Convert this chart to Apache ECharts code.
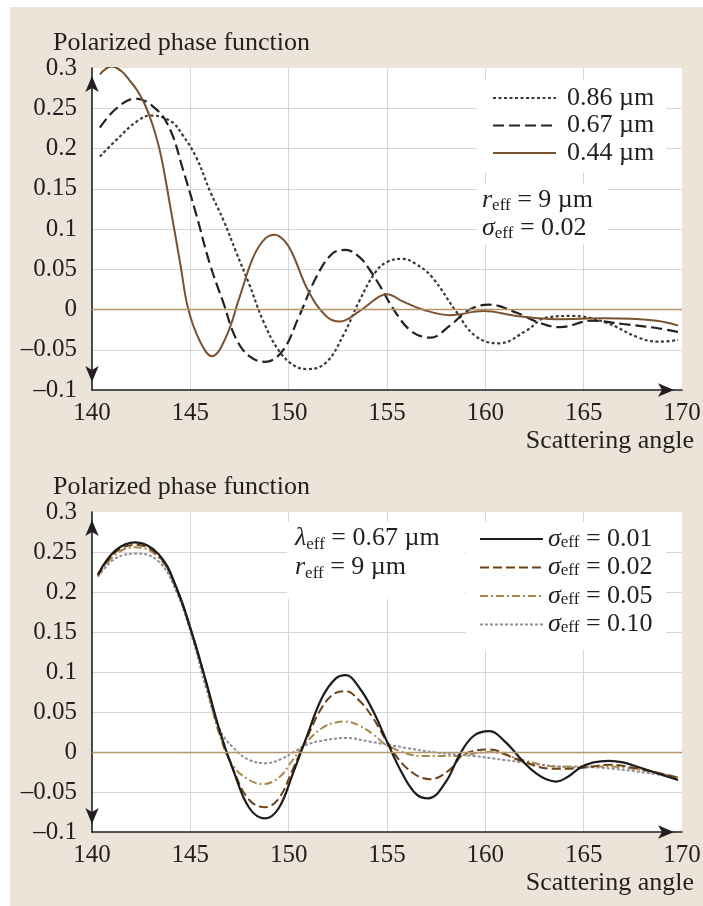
<!DOCTYPE html>
<html><head><meta charset="utf-8">
<script src="https://cdn.jsdelivr.net/npm/echarts@6/dist/echarts.min.js"></script>
<style>
html,body{margin:0;padding:0;background:#fff;width:703px;height:906px;overflow:hidden;}
#bg{position:absolute;left:10px;top:7px;width:693px;height:899px;background:#ECE4D9;}
#c{position:absolute;left:0;top:0;width:703px;height:906px;}
</style></head><body>
<div id="bg"></div><div id="c"></div>
<script>
// ---- axes / ticks ----
const xTicks = [140, 145, 150, 155, 160, 165, 170];
const yTicks = [-0.1, -0.05, 0, 0.05, 0.1, 0.15, 0.2, 0.25, 0.3];
const yTickLabels = ['\u20130.1', '\u20130.05', '0', '0.05', '0.1', '0.15', '0.2', '0.25', '0.3'];

// ---- top panel: wavelengths (r_eff = 9 µm, σ_eff = 0.02) ----
const topNames = ['0.86 µm', '0.67 µm', '0.44 µm'];
const top086 = [[140.4,0.19],[141.25,0.211],[142.3,0.234],[143.0,0.241],[144.0,0.234],[144.6,0.217],[145.3,0.189],[146.0,0.147],[146.7,0.11],[147.3,0.073],[148.0,0.031],[148.7,-0.014],[149.5,-0.051],[150.3,-0.07],[151.0,-0.074],[151.9,-0.066],[152.8,-0.031],[153.6,0.011],[154.4,0.046],[155.0,0.059],[155.8,0.063],[156.5,0.056],[157.3,0.04],[158.5,-0.002],[159.5,-0.033],[160.7,-0.042],[162.1,-0.026],[163.1,-0.01],[164.4,-0.008],[166.1,-0.016],[167.8,-0.035],[168.8,-0.04],[169.8,-0.038]];
const top067 = [[140.4,0.226],[141.25,0.25],[142.2,0.262],[143.3,0.248],[144.0,0.222],[144.6,0.176],[145.3,0.118],[146.0,0.056],[146.7,0.007],[147.3,-0.035],[148.0,-0.058],[148.8,-0.065],[149.7,-0.051],[150.5,-0.01],[151.4,0.04],[152.2,0.069],[152.9,0.074],[153.6,0.065],[154.1,0.05],[154.6,0.031],[155.5,-0.006],[156.3,-0.028],[157.2,-0.035],[158.2,-0.02],[159.2,0.0],[160.2,0.006],[161.6,-0.004],[162.7,-0.016],[163.8,-0.022],[165.4,-0.014],[167.0,-0.018],[168.7,-0.023],[169.8,-0.028]];
const top044 = [[140.4,0.292],[141.0,0.302],[141.5,0.296],[141.9,0.285],[142.3,0.272],[142.7,0.254],[143.1,0.228],[143.5,0.192],[144.0,0.125],[144.5,0.055],[144.9,0.0],[145.5,-0.04],[146.1,-0.058],[146.8,-0.035],[147.5,0.015],[148.2,0.065],[148.8,0.088],[149.3,0.093],[149.8,0.085],[150.2,0.069],[151.0,0.023],[151.9,-0.008],[152.6,-0.015],[153.6,-0.002],[154.6,0.016],[155.0,0.019],[155.8,0.01],[156.8,0.0],[158.2,-0.007],[159.9,-0.002],[161.6,-0.008],[163.6,-0.012],[166.1,-0.011],[168.7,-0.014],[169.8,-0.02]];

// ---- bottom panel: size-distribution widths (λ = 0.67 µm, r_eff = 9 µm) ----
const botNames = ['0.01', '0.02', '0.05', '0.10'];
const bot001 = [[140.3,0.222],[141.2,0.252],[142.2,0.262],[143.4,0.247],[144.3,0.205],[145.1,0.147],[145.8,0.088],[146.5,0.026],[147.2,-0.024],[148.0,-0.07],[148.8,-0.083],[149.5,-0.07],[150.2,-0.028],[150.9,0.018],[151.7,0.068],[152.4,0.092],[152.9,0.096],[153.6,0.08],[154.3,0.051],[155.0,0.013],[155.8,-0.028],[156.5,-0.053],[157.1,-0.058],[158.0,-0.037],[158.7,-0.003],[159.4,0.02],[160.2,0.026],[161.0,0.013],[162.0,-0.014],[162.6,-0.027],[163.1,-0.034],[163.6,-0.037],[164.2,-0.031],[164.8,-0.02],[165.5,-0.013],[166.3,-0.011],[167.0,-0.013],[167.8,-0.019],[168.8,-0.027],[169.8,-0.035]];
const bot002 = [[140.3,0.221],[141.2,0.25],[142.2,0.259],[143.4,0.245],[144.3,0.204],[145.1,0.147],[145.8,0.087],[146.5,0.024],[147.2,-0.023],[148.0,-0.06],[148.8,-0.069],[149.5,-0.058],[150.2,-0.022],[150.9,0.016],[151.7,0.056],[152.4,0.074],[152.9,0.076],[153.6,0.064],[154.3,0.042],[155.0,0.013],[156.0,-0.02],[157.2,-0.034],[158.2,-0.022],[158.9,-0.003],[160.2,0.003],[161.7,-0.01],[163.4,-0.021],[164.8,-0.02],[166.3,-0.016],[167.8,-0.021],[169.8,-0.032]];
const bot005 = [[140.3,0.22],[141.2,0.247],[142.2,0.256],[143.4,0.243],[144.3,0.203],[145.1,0.146],[145.8,0.085],[146.5,0.02],[147.2,-0.018],[148.0,-0.035],[148.7,-0.04],[149.5,-0.032],[150.2,-0.01],[150.9,0.012],[151.7,0.03],[152.4,0.037],[152.9,0.038],[153.6,0.033],[154.3,0.022],[155.1,0.007],[156.8,-0.005],[158.5,-0.005],[160.2,0.0],[161.9,-0.01],[163.6,-0.018],[166.1,-0.018],[169.8,-0.032]];
const bot010 = [[140.3,0.219],[141.2,0.242],[142.3,0.248],[143.4,0.238],[144.3,0.2],[145.1,0.143],[145.8,0.08],[146.5,0.028],[147.2,0.005],[148.0,-0.01],[148.9,-0.014],[149.6,-0.009],[150.2,-0.001],[150.9,0.009],[151.9,0.015],[152.9,0.0175],[154.1,0.013],[156.0,0.005],[157.6,-0.001],[159.4,-0.005],[161.0,-0.01],[163.6,-0.018],[166.1,-0.02],[169.8,-0.032]];

const FONT = '"Liberation Serif","Times New Roman",serif';
const TXT = '#231f20';
const GRIDC = '#d9d5d0';
const ZEROC = '#b8966c';

function richSet(lh) {
  return {
    i: {fontFamily: FONT, fontStyle: 'italic', fontSize: 26, lineHeight: lh, color: TXT},
    s: {fontFamily: FONT, fontSize: 17, lineHeight: 12, verticalAlign: 'bottom', color: TXT},
    t: {fontFamily: FONT, fontSize: 26, lineHeight: lh, color: TXT}
  };
}

function xAxisFor(gi) {
  return {
    type: 'value', gridIndex: gi, min: xTicks[0], max: xTicks[xTicks.length - 1],
    interval: xTicks[1] - xTicks[0],
    axisLine: {show: true, onZero: false, symbol: ['none', 'arrow'], symbolSize: [10, 16], symbolOffset: [0, -8],
      lineStyle: {color: TXT, width: 1.6}},
    axisTick: {show: false},
    axisLabel: {color: TXT, fontFamily: FONT, fontSize: 25, margin: 11},
    splitLine: {show: true, showMinLine: false, showMaxLine: false, lineStyle: {color: GRIDC, width: 1}}
  };
}
function yAxisFor(gi) {
  return {
    type: 'value', gridIndex: gi, min: yTicks[0], max: yTicks[yTicks.length - 1],
    interval: 0.05,
    axisLine: {show: true, onZero: false, symbol: ['arrow', 'arrow'], symbolSize: [10, 16], symbolOffset: [8, -8],
      lineStyle: {color: TXT, width: 1.6}},
    axisTick: {show: false},
    axisLabel: {color: TXT, fontFamily: FONT, fontSize: 25, margin: 15,
      formatter: function (v) {
        let best = 0;
        for (let k = 0; k < yTicks.length; k++) if (Math.abs(yTicks[k] - v) < Math.abs(yTicks[best] - v)) best = k;
        return yTickLabels[best];
      }},
    splitLine: {show: true, showMinLine: false, showMaxLine: false, lineStyle: {color: GRIDC, width: 1}}
  };
}
function zeroLine() {
  return {silent: true, symbol: 'none', label: {show: false}, animation: false,
    lineStyle: {color: ZEROC, type: 'solid', width: 1.3}, data: [{yAxis: 0}]};
}
function lineSeries(name, data, gi, color, type, width, extra) {
  const s = {name: name, type: 'line', xAxisIndex: gi, yAxisIndex: gi, data: data,
    smooth: 0.4, symbol: 'none', showSymbol: false, animation: false,
    lineStyle: {color: color, type: type, width: width}, itemStyle: {color: color}};
  if (extra) Object.assign(s, extra);
  return s;
}
const hiddenSymbol = {color: 'rgba(0,0,0,0)', borderWidth: 0, borderColor: 'rgba(0,0,0,0)', opacity: 0};

const chart = echarts.init(document.getElementById('c'), null, {renderer: 'canvas'});
const option = {
  backgroundColor: 'transparent',
  animation: false,
  textStyle: {fontFamily: FONT},
  grid: [
    {left: 92, top: 68, width: 590, height: 322, show: true, backgroundColor: '#ffffff', borderWidth: 0, containLabel: false, outerBoundsMode: 'none'},
    {left: 92, top: 512, width: 590, height: 320, show: true, backgroundColor: '#ffffff', borderWidth: 0, containLabel: false, outerBoundsMode: 'none'}
  ],
  xAxis: [xAxisFor(0), xAxisFor(1)],
  yAxis: [yAxisFor(0), yAxisFor(1)],
  title: [
    {text: 'Polarized phase function', left: 53, top: 28, padding: 0, textStyle: {fontFamily: FONT, fontSize: 26, fontWeight: 'normal', color: TXT, lineHeight: 30}},
    {text: 'Polarized phase function', left: 53, top: 472, padding: 0, textStyle: {fontFamily: FONT, fontSize: 26, fontWeight: 'normal', color: TXT, lineHeight: 30}},
    {text: 'Scattering angle', right: 9, top: 426, padding: 0, textStyle: {fontFamily: FONT, fontSize: 26, fontWeight: 'normal', color: TXT, lineHeight: 30}},
    {text: 'Scattering angle', right: 9, top: 868, padding: 0, textStyle: {fontFamily: FONT, fontSize: 26, fontWeight: 'normal', color: TXT, lineHeight: 30}},
    {text: '{i|r}{s|eff}{t| = 9 µm}\n{i|σ}{s|eff}{t| = 0.02}', left: 477, top: 183, padding: [3, 15, 2, 5],
      backgroundColor: '#ffffff', textStyle: {rich: richSet(28), fontSize: 26, fontWeight: 'normal', color: TXT}},
    {text: '{i|λ}{s|eff}{t| = 0.67 µm}\n{i|r}{s|eff}{t| = 9 µm}', left: 287, top: 520, padding: [4, 25, 17, 8],
      backgroundColor: '#ffffff', textStyle: {rich: richSet(29), fontSize: 26, fontWeight: 'normal', color: TXT}}
  ],
  legend: [
    {data: topNames, orient: 'vertical', left: 477, top: 80, padding: [5, 12, 7, 15],
      itemWidth: 63, itemHeight: 4, itemGap: 1.5, backgroundColor: '#ffffff', selectedMode: false,
      itemStyle: hiddenSymbol,
      textStyle: {fontFamily: FONT, fontSize: 26, color: TXT, lineHeight: 24, padding: [0, 0, 0, 6]}},
    {data: botNames, orient: 'vertical', left: 466, top: 522, padding: [4, 14, 13, 13],
      itemWidth: 63, itemHeight: 4, itemGap: 2.5, backgroundColor: '#ffffff', selectedMode: false,
      itemStyle: hiddenSymbol,
      formatter: function (n) { return '{i|σ}{s|eff}{t| = ' + n + '}'; },
      textStyle: {fontFamily: FONT, fontSize: 26, color: TXT, lineHeight: 24, rich: richSet(24)}}
  ],
  series: [
    lineSeries(topNames[0], top086, 0, '#443830', [3, 2.5], 2.2, {markLine: zeroLine()}),
    lineSeries(topNames[1], top067, 0, '#222222', [11, 5], 2.2),
    lineSeries(topNames[2], top044, 0, '#7a5230', 'solid', 2),
    lineSeries(botNames[3], bot010, 1, '#8d8d9d', [3, 2], 2, {markLine: zeroLine()}),
    lineSeries(botNames[2], bot005, 1, '#a8864f', [8, 3, 2, 3], 2),
    lineSeries(botNames[1], bot002, 1, '#6e4218', [9, 4], 2),
    lineSeries(botNames[0], bot001, 1, '#1c1c1c', 'solid', 2.2)
  ]
};
chart.setOption(option);
</script>
</body></html>
